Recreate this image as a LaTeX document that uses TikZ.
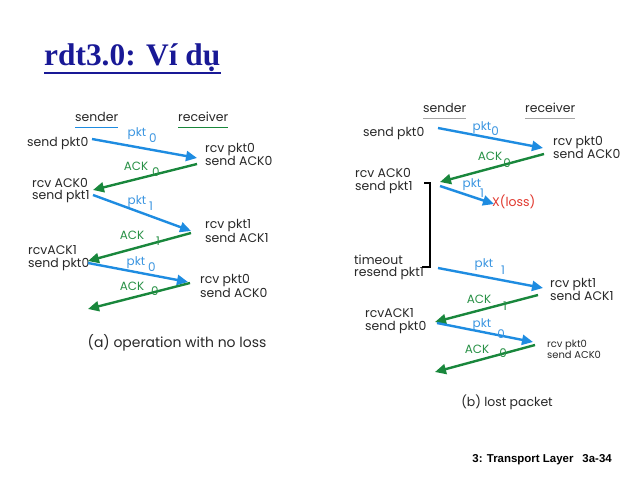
\documentclass[tikz,border=0pt]{standalone}
\usepackage{fontspec}
\usetikzlibrary{arrows.meta}
\newfontfamily\diagfont{Poppins}
\newfontfamily\titlefont{Liberation Serif}
\newfontfamily\footfont{Liberation Sans}
\definecolor{pblue}{RGB}{30,140,225}
\definecolor{pgreen}{RGB}{25,135,60}
\definecolor{lblue}{RGB}{60,150,225}
\definecolor{lgreen}{RGB}{40,145,70}
\definecolor{lossred}{RGB}{225,55,45}
\definecolor{titleblue}{RGB}{25,25,150}
\definecolor{txtgray}{RGB}{40,40,40}
\begin{document}
\begin{tikzpicture}[x=1bp,y=-1bp,
  txt/.style={font=\diagfont\fontsize{12.5}{12.5}\selectfont, inner sep=0, anchor=west, text=txtgray, text height=8bp, text depth=2.5bp},
  smalltxt/.style={font=\diagfont\fontsize{10}{10}\selectfont, inner sep=0, anchor=west, text=txtgray, text height=7bp, text depth=2bp},
  plbl/.style={font=\diagfont\fontsize{12}{12}\selectfont, inner sep=0, text=lblue, text height=7bp, text depth=2bp},
  albl/.style={font=\diagfont\fontsize{12}{12}\selectfont, inner sep=0, text=lgreen, text height=7bp, text depth=1bp},
  parr/.style={draw=pblue, line width=2.4bp, -{Triangle[length=11bp,width=10bp]}},
  aarr/.style={draw=pgreen, line width=2.4bp, -{Triangle[length=11bp,width=10bp]}},
  caption/.style={font=\diagfont\fontsize{14}{14}\selectfont, inner sep=0, text=txtgray}
]
\useasboundingbox (0,0) rectangle (640,480);
\fill[white] (0,0) rectangle (640,480);

% title
\node[font=\titlefont\bfseries\fontsize{31.5}{31.5}\selectfont, text=titleblue, inner sep=0, anchor=base west] (title) at (44,66) {rdt3.0: Ví dụ};
\draw[titleblue, line width=2.5bp] ([yshift=-7bp]title.base west) -- ([yshift=-7bp]title.base east);

% ---------------- (a) ----------------
\node[txt] (asnd) at (75,119) {sender};
\node[txt] (arcv) at (178,119) {receiver};
\draw[pblue, line width=1.5bp] ([yshift=-3bp]asnd.south west) -- ([yshift=-3bp]asnd.south east);
\draw[pgreen, line width=1.5bp] ([yshift=-3bp]arcv.south west) -- ([yshift=-3bp]arcv.south east);

\node[txt] (a1) at (27,144) {send pkt0};
\node[txt] (a2) at (205,150) {rcv pkt0};
\node[txt] (a3) at (205,163) {send ACK0};
\node[txt] (a4) at (32,185) {rcv ACK0};
\node[txt] (a5) at (32,197) {send pkt1};
\node[txt] (a6) at (205,226) {rcv pkt1};
\node[txt] (a7) at (205,240) {send ACK1};
\node[txt] (a8) at (28,252) {rcvACK1};
\node[txt] (a9) at (28,265) {send pkt0};
\node[txt] (a10) at (200,281) {rcv pkt0};
\node[txt] (a11) at (200,295) {send ACK0};

\coordinate (as1) at (92,139);  \coordinate (ae1) at (197,158);
\coordinate (as2) at (197,164); \coordinate (ae2) at (93,190);
\coordinate (as3) at (93,195);  \coordinate (ae3) at (191,231);
\coordinate (as4) at (191,233); \coordinate (ae4) at (88,261);
\coordinate (as5) at (88,263);  \coordinate (ae5) at (188,282);
\coordinate (as6) at (190,283); \coordinate (ae6) at (88,309);
\draw[parr] (as1) -- (ae1);
\draw[aarr] (as2) -- (ae2);
\draw[parr] (as3) -- (ae3);
\draw[aarr] (as4) -- (ae4);
\draw[parr] (as5) -- (ae5);
\draw[aarr] (as6) -- (ae6);

\node[plbl] (al1) at (137,134) {pkt};  \node[plbl] (al1s) at (153,140) {0};
\node[albl] (al2) at (136,168) {ACK};  \node[albl] (al2s) at (156,174) {0};
\node[plbl] (al3) at (137,202) {pkt};  \node[plbl] (al3s) at (151,208) {1};
\node[albl] (al4) at (132,237) {ACK};  \node[albl] (al4s) at (158,243) {1};
\node[plbl] (al5) at (136,263) {pkt};  \node[plbl] (al5s) at (152,269) {0};
\node[albl] (al6) at (132,287) {ACK};  \node[albl] (al6s) at (155,292) {0};

\node[caption] (acap) at (177,343) {(a) operation with no loss};

% ---------------- (b) ----------------
\node[txt] (bsnd) at (423,110) {sender};
\node[txt] (brcv) at (525,110) {receiver};
\draw[black!35, line width=0.8bp] ([yshift=-3bp]bsnd.south west) -- ([yshift=-3bp]bsnd.south east);
\draw[black!35, line width=0.8bp] ([yshift=-3bp]brcv.south west) -- ([yshift=-3bp]brcv.south east);

\node[txt] (b1) at (363,134) {send pkt0};
\node[txt] (b2) at (553,143) {rcv pkt0};
\node[txt] (b3) at (553,156) {send ACK0};
\node[txt] (b4) at (355,175) {rcv ACK0};
\node[txt] (b5) at (355,188) {send pkt1};
\node[txt, text=lossred] (bloss) at (492,204) {X(loss)};
\node[txt] (b6) at (354,262) {timeout};
\node[txt] (b7) at (354,274) {resend pkt1};
\node[txt] (b8) at (550,285) {rcv pkt1};
\node[txt] (b9) at (550,298) {send ACK1};
\node[txt] (b10) at (365,315) {rcvACK1};
\node[txt] (b11) at (365,328) {send pkt0};
\node[smalltxt] (b12) at (547,345) {rcv pkt0};
\node[smalltxt] (b13) at (547,356) {send ACK0};

\coordinate (bs1) at (438,128); \coordinate (be1) at (543,148);
\coordinate (bs2) at (544,154); \coordinate (be2) at (440,182);
\coordinate (bs3) at (440,186); \coordinate (be3) at (494,204);
\coordinate (bs4) at (438,268); \coordinate (be4) at (543,288);
\coordinate (bs5) at (538,295); \coordinate (be5) at (435,322);
\coordinate (bs6) at (437,323); \coordinate (be6) at (533,342);
\coordinate (bs7) at (535,345); \coordinate (be7) at (435,372);
\draw[parr] (bs1) -- (be1);
\draw[aarr] (bs2) -- (be2);
\draw[parr] (bs3) -- (be3);
\draw[parr] (bs4) -- (be4);
\draw[aarr] (bs5) -- (be5);
\draw[parr] (bs6) -- (be6);
\draw[aarr] (bs7) -- (be7);

\coordinate (br1) at (424,183); \coordinate (br2) at (430,183);
\coordinate (br3) at (430,267); \coordinate (br4) at (422,267);
\draw[black, line width=1.8bp] (br1) -- (br2) -- (br3) -- (br4);

\node[plbl] (bl1) at (482,128) {pkt};  \node[plbl] (bl1s) at (495,133) {0};
\node[albl] (bl2) at (490,158) {ACK};  \node[albl] (bl2s) at (507,165) {0};
\node[plbl] (bl3) at (472,185) {pkt};  \node[plbl] (bl3s) at (482,195) {1};
\node[plbl] (bl4) at (484,265) {pkt};  \node[plbl] (bl4s) at (503,272) {1};
\node[albl] (bl5) at (479,300) {ACK};  \node[albl] (bl5s) at (505,307) {1};
\node[plbl] (bl6) at (482,325) {pkt};  \node[plbl] (bl6s) at (501,336) {0};
\node[albl] (bl7) at (477,350) {ACK};  \node[albl] (bl7s) at (503,354) {0};

\node[caption, font=\diagfont\fontsize{12.5}{12.5}\selectfont] (bcap) at (507,402) {(b) lost packet};

% footer
\node[font=\footfont\bfseries\fontsize{11.5}{11.5}\selectfont, inner sep=0, anchor=east] (foot) at (612,460) {3: Transport Layer\hspace{9bp}3a-34};
\end{tikzpicture}
\end{document}
